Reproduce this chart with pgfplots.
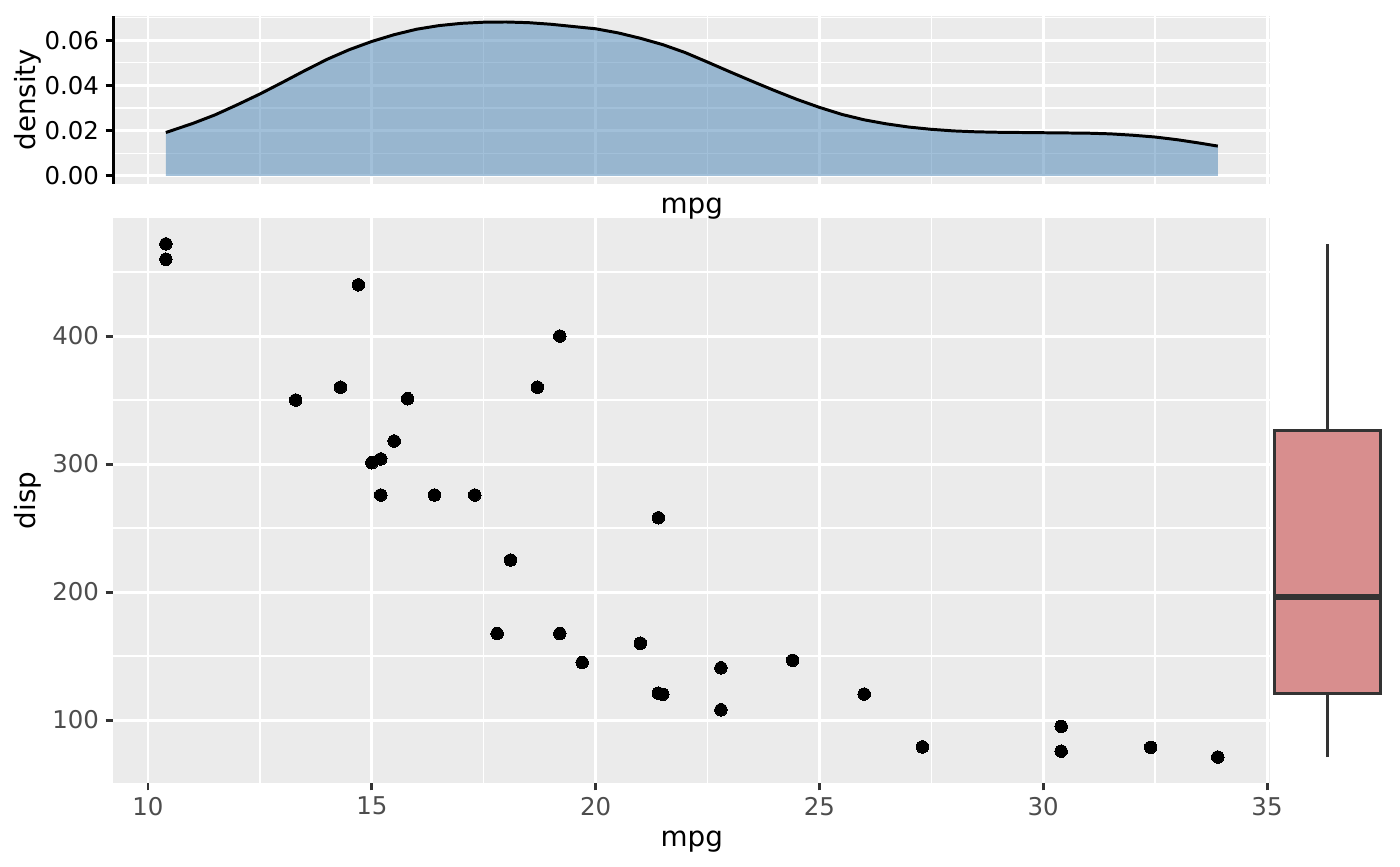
\documentclass[border=0pt]{standalone}
\usepackage{pgfplots}
\pgfplotsset{compat=1.18}
\usepackage{fontspec}
\setmainfont{DejaVu Sans}
\definecolor{ggbg}{HTML}{EBEBEB}
\definecolor{ggtext}{HTML}{4D4D4D}
\definecolor{ggtick}{HTML}{333333}
\definecolor{steel}{RGB}{70,130,180}
\definecolor{boxfill}{HTML}{D88E8E}
\pgfplotsset{
  ggbase/.style={
    scale only axis,
    anchor=south west,
    width=416.55pt,
    xmin=9.225, xmax=35.075,
    axis background/.style={fill=ggbg},
    tick align=outside,
    major tick length=2.75pt,
    minor tick length=0pt,
    xmajorgrids, ymajorgrids, xminorgrids, yminorgrids,
    major grid style={white, line width=1.07pt},
    minor grid style={white, line width=0.53pt},
    xtick={10,15,20,25,30,35},
    minor xtick={12.5,17.5,22.5,27.5,32.5},
    scaled x ticks=false, scaled y ticks=false,
    tick label style={font=\fontsize{8.8}{10}\selectfont},
    label style={font=\fontsize{11}{13}\selectfont, inner sep=0pt},
    xticklabel style={anchor=north, inner sep=0pt, yshift=-2.2pt},
    yticklabel style={anchor=east, inner sep=0pt, xshift=-2.2pt},
    clip=false,
  }
}
\begin{document}
\begin{tikzpicture}
\path[use as bounding box, fill=white] (0,0) rectangle (504pt,311.76pt);

% main scatter panel
\begin{axis}[ggbase,
  at={(40.79pt,29.99pt)},
  height=203.22pt,
  ymin=51.0455, ymax=492.0545,
  axis lines*=left,
  axis line style={draw=none},
  tick style={ggtick, line width=1.07pt},
  ytick={100,200,300,400},
  minor ytick={150,250,350,450},
  xticklabels={10,15,20,25,30,35},
  yticklabels={100,200,300,400},
  tick label style={color=ggtext},
  xlabel={mpg}, ylabel={disp},
  every axis x label/.style={at={(axis description cs:0.5,-0.1122)}, anchor=base},
  every axis y label/.style={at={(axis description cs:-0.06707,0.5)}, rotate=90, anchor=base},
]
\addplot[only marks, mark=*, mark size=2.25pt, mark options={fill=black, draw=black, line width=0pt}]
coordinates {
(21.0,160) (21.0,160) (22.8,108) (21.4,258) (18.7,360) (18.1,225)
(14.3,360) (24.4,146.7) (22.8,140.8) (19.2,167.6) (17.8,167.6)
(16.4,275.8) (17.3,275.8) (15.2,275.8) (10.4,472) (10.4,460)
(14.7,440) (32.4,78.7) (30.4,75.7) (33.9,71.1) (21.5,120.1)
(15.5,318) (15.2,304) (13.3,350) (19.2,400) (27.3,79)
(26.0,120.3) (30.4,95.1) (15.8,351) (19.7,145) (15.0,301) (21.4,121)
};
\end{axis}

% marginal density panel
\begin{axis}[ggbase,
  at={(40.79pt,245.66pt)},
  height=60.44pt,
  ymin=-0.00337, ymax=0.07077,
  axis x line*=bottom, axis y line*=left,
  x axis line style={draw=none},
  y axis line style={black, line width=1.07pt},
  xtick style={draw=none},
  ytick style={black, line width=1.07pt},
  xticklabels={},
  ytick={0,0.02,0.04,0.06},
  minor ytick={0.01,0.03,0.05,0.07},
  yticklabels={0.00,0.02,0.04,0.06},
  tick label style={color=black},
  xlabel={mpg}, ylabel={density},
  every axis x label/.style={at={(axis description cs:0.5,-0.175)}, anchor=base},
  every axis y label/.style={at={(axis description cs:-0.06707,0.5)}, rotate=90, anchor=base},
]
\addplot[draw=none, fill=steel, fill opacity=0.5] coordinates {
(10.4,0.0192) (11.0,0.0232) (11.5,0.0270) (12.0,0.0315) (12.5,0.0362)
(13.0,0.0413) (13.5,0.0465) (14.0,0.0515) (14.5,0.0558) (15.0,0.0594)
(15.5,0.0624) (16.0,0.0648) (16.5,0.0664) (17.0,0.0674) (17.5,0.0679)
(18.0,0.0680) (18.5,0.0677) (19.0,0.0670) (19.5,0.0660) (20.0,0.0650)
(20.5,0.0632) (21.0,0.0608) (21.5,0.0580) (22.0,0.0545) (22.5,0.0503)
(23.0,0.0460) (23.5,0.0418) (24.0,0.0377) (24.5,0.0338) (25.0,0.0303)
(25.5,0.0272) (26.0,0.0248) (26.5,0.0230) (27.0,0.0216) (27.5,0.0206)
(28.0,0.0199) (28.5,0.0195) (29.0,0.0193) (29.5,0.0192) (30.0,0.0191)
(30.5,0.0190) (31.0,0.0189) (31.5,0.0186) (32.0,0.0180) (32.5,0.0172)
(33.0,0.0160) (33.5,0.0145) (33.9,0.0132)
} \closedcycle;
\addplot[black, line width=1.07pt, line join=round] coordinates {
(10.4,0.0192) (11.0,0.0232) (11.5,0.0270) (12.0,0.0315) (12.5,0.0362)
(13.0,0.0413) (13.5,0.0465) (14.0,0.0515) (14.5,0.0558) (15.0,0.0594)
(15.5,0.0624) (16.0,0.0648) (16.5,0.0664) (17.0,0.0674) (17.5,0.0679)
(18.0,0.0680) (18.5,0.0677) (19.0,0.0670) (19.5,0.0660) (20.0,0.0650)
(20.5,0.0632) (21.0,0.0608) (21.5,0.0580) (22.0,0.0545) (22.5,0.0503)
(23.0,0.0460) (23.5,0.0418) (24.0,0.0377) (24.5,0.0338) (25.0,0.0303)
(25.5,0.0272) (26.0,0.0248) (26.5,0.0230) (27.0,0.0216) (27.5,0.0206)
(28.0,0.0199) (28.5,0.0195) (29.0,0.0193) (29.5,0.0192) (30.0,0.0191)
(30.5,0.0190) (31.0,0.0189) (31.5,0.0186) (32.0,0.0180) (32.5,0.0172)
(33.0,0.0160) (33.5,0.0145) (33.9,0.0132)
};
\end{axis}

% marginal boxplot panel (Q1=120.825, median=196.3, Q3=326, whiskers 71.1..472)
\begin{axis}[
  scale only axis, anchor=south west,
  at={(456.62pt,29.99pt)},
  width=42.55pt, height=203.22pt,
  xmin=0, xmax=1,
  ymin=51.0455, ymax=492.0545,
  axis lines=none, ticks=none, clip=false,
]
\addplot[ggtick, line width=1.07pt] coordinates {(0.5,71.1) (0.5,120.825)};
\addplot[ggtick, line width=1.07pt] coordinates {(0.5,326) (0.5,472)};
\addplot[draw=ggtick, fill=boxfill, line width=1.07pt] coordinates {
(0.05,120.825) (0.95,120.825) (0.95,326) (0.05,326)} -- cycle;
\addplot[ggtick, line width=2.13pt] coordinates {(0.05,196.3) (0.95,196.3)};
\end{axis}
\end{tikzpicture}
\end{document}
